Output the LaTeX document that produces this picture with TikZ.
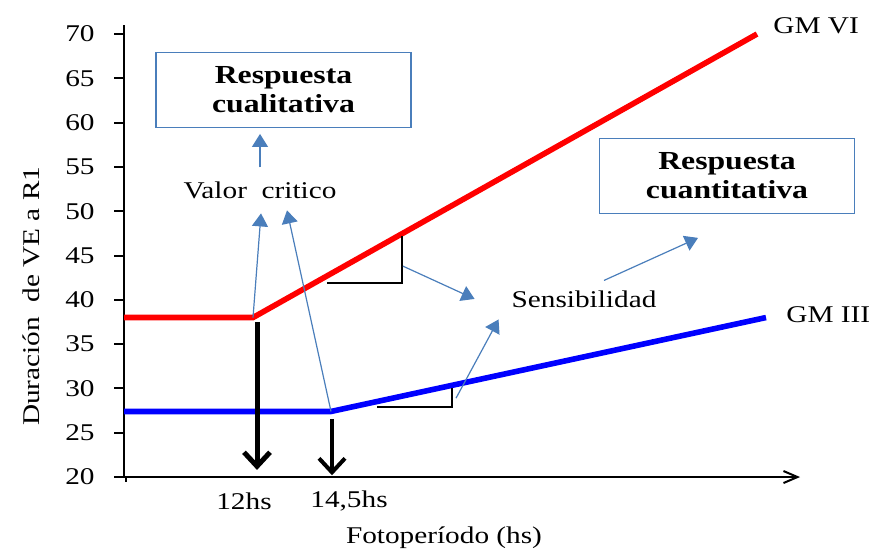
\documentclass[tikz,border=0pt]{standalone}
\usepackage{fontspec}
\setmainfont{Liberation Serif}[FakeStretch=1.22]
\usetikzlibrary{arrows.meta,positioning}
\definecolor{azul}{RGB}{74,126,187}

\tikzset{
  curva/.style={line width=2.8pt},
  cateto/.style={black, line width=0.8pt},
  flecha/.style={azul, line width=0.6pt, -{Triangle[length=6.5pt,width=8pt]}},
  umbral/.style={black, line width=2.5pt, -{Straight Barb[length=7pt,width=13pt]}},
  caja/.style={draw=azul, line width=0.6pt, minimum width=127.5pt, minimum height=37.5pt, align=center, font=\fontsize{13pt}{14.5pt}\selectfont\bfseries},
}

\begin{document}
\begin{tikzpicture}[x=0.5pt,y=4.43pt,font=\fontsize{12pt}{14.5pt}\selectfont]
  \useasboundingbox (0,11.76) rectangle (876,73.84);
  \draw[line width=1pt] (124,20) -- (124,71); %y
  \draw[line width=1pt,-{Straight Barb[length=7pt,width=6pt]}] (124,20) -- (800,20); %x
  \draw[line width=1pt] (126,20) -- (126,19.4);
  \foreach \v in {20,25,...,70}{
    \draw[line width=1pt] (114,\v) -- (124,\v);
    \node[anchor=east, inner sep=0pt] (y\v) at (95,\v) {\v};
  }
  \node[rotate=90] (ylab) at (31,40.4) {Duración \ de VE a R1};
  \node (fot) at (444,13.1) {Fotoperíodo (hs)};
  \node (h12) at (244,17.3) {12hs};
  \node (h145) at (349,17.3) {14,5hs};

  % curvas
  \coordinate (rKink) at (253,38);
  \coordinate (bKink) at (331,27.4);
  \draw[red, curva] (124,38) -- (rKink) -- (757,70);
  \draw[blue, curva] (124,27.4) -- (bKink) -- (766,38);
  \node[anchor=west, inner sep=0pt] (gm6) at (773,70.9) {GM VI};
  \node[anchor=west, inner sep=0pt] (gm3) at (786,38.3) {GM III};

  % pendientes
  \draw[cateto] (327,41.9) -- (402,41.9) -- (402,47.2);
  \draw[cateto] (377,27.9) -- (452,27.9) -- (452,30.05);
  \coordinate (tR) at (403,43.8);
  \coordinate (tB) at (456,28.9);

  % umbrales
  \draw[umbral] (257,37.5) -- (257,20.8);
  \draw[umbral, line width=2pt] (332,26.55) -- (332,20.2);

  % textos
  \node[caja] (cual) at (283.5,63.7) {Respuesta\\cualitativa};
  \node[caja] (cuant) at (727,54) {Respuesta\\cuantitativa};
  \node (vc) at (260,52.3) {Valor \ critico};
  \node (sens) at (584,40.1) {Sensibilidad};
  \coordinate (vcTop) at (vc.north |- cual.south);

  \draw[flecha] ([yshift=4pt]vc.north) -- ([yshift=-3pt]vcTop);
  \draw[flecha] (rKink) -- ([xshift=0.5pt,yshift=-3.5pt]vc.south);
  \draw[flecha] (bKink) -- ([xshift=13.5pt,yshift=-2pt]vc.south);
  \draw[flecha] (tR) -- ([xshift=-15pt]sens.west);
  \draw[flecha] (tB) -- ([xshift=-3pt,yshift=-2.5pt]sens.south west);
  \draw[flecha] ([xshift=10pt,yshift=1.5pt]sens.north) -- ([xshift=-14.5pt,yshift=-12pt]cuant.south);
\end{tikzpicture}
\end{document}
